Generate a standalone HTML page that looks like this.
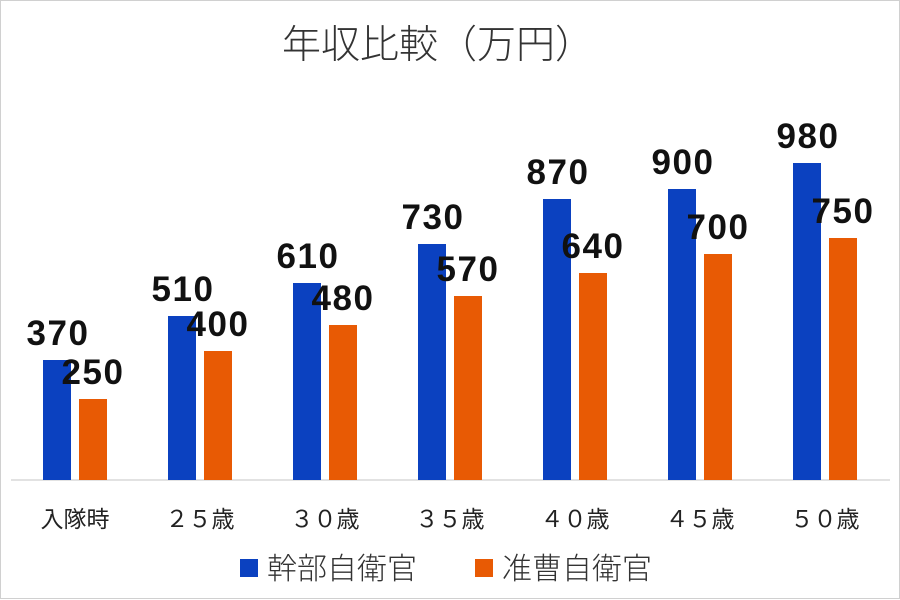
<!DOCTYPE html>
<html><head><meta charset="utf-8"><style>
html,body{margin:0;padding:0;background:#fff}
svg{display:block}
</style></head><body>
<svg width="900" height="600" viewBox="0 0 900 600" xmlns="http://www.w3.org/2000/svg">
<rect x="0.5" y="0.5" width="899" height="598" fill="#fff" stroke="#d0d0d0"/>
<text x="438" y="58" text-anchor="middle" font-family="'Noto Sans CJK JP',sans-serif" font-weight="300" font-size="39" fill="#333">年収比較（万円）</text>
<line x1="11" y1="480" x2="890" y2="480" stroke="#d9d9d9" stroke-width="1.5"/>
<g font-family="'Liberation Sans','Noto Sans CJK JP',sans-serif" font-weight="bold" font-size="35" letter-spacing="1.5" fill="#111" text-anchor="middle">
<rect x="43" y="360" width="28" height="120" fill="#0b41c0"/><rect x="79" y="399" width="28" height="81" fill="#e85a04"/>
<text x="58" y="345">370</text><text x="93" y="384">250</text>
<rect x="168" y="316" width="28" height="164" fill="#0b41c0"/><rect x="204" y="351" width="28" height="129" fill="#e85a04"/>
<text x="183" y="301">510</text><text x="218" y="336">400</text>
<rect x="293" y="283" width="28" height="197" fill="#0b41c0"/><rect x="329" y="325" width="28" height="155" fill="#e85a04"/>
<text x="308" y="268">610</text><text x="343" y="310">480</text>
<rect x="418" y="244" width="28" height="236" fill="#0b41c0"/><rect x="454" y="296" width="28" height="184" fill="#e85a04"/>
<text x="433" y="229">730</text><text x="468" y="281">570</text>
<rect x="543" y="199" width="28" height="281" fill="#0b41c0"/><rect x="579" y="273" width="28" height="207" fill="#e85a04"/>
<text x="558" y="184">870</text><text x="593" y="258">640</text>
<rect x="668" y="189" width="28" height="291" fill="#0b41c0"/><rect x="704" y="254" width="28" height="226" fill="#e85a04"/>
<text x="683" y="174">900</text><text x="718" y="239">700</text>
<rect x="793" y="163" width="28" height="317" fill="#0b41c0"/><rect x="829" y="238" width="28" height="242" fill="#e85a04"/>
<text x="808" y="148">980</text><text x="843" y="223">750</text>
</g>
<g font-family="'Liberation Sans','Noto Sans CJK JP',sans-serif" font-size="23" fill="#222" text-anchor="middle">
<text x="75" y="527">入隊時</text>
<text x="200" y="527">２５歳</text>
<text x="325" y="527">３０歳</text>
<text x="450" y="527">３５歳</text>
<text x="575" y="527">４０歳</text>
<text x="700" y="527">４５歳</text>
<text x="825" y="527">５０歳</text>
</g>
<rect x="240" y="559" width="18" height="18" fill="#0b41c0"/>
<rect x="475" y="559" width="18" height="18" fill="#e85a04"/>
<g font-family="'Noto Sans CJK JP',sans-serif" font-weight="300" font-size="30" fill="#333">
<text x="267" y="579">幹部自衛官</text>
<text x="502" y="579">准曹自衛官</text>
</g>
</svg>
</body></html>
